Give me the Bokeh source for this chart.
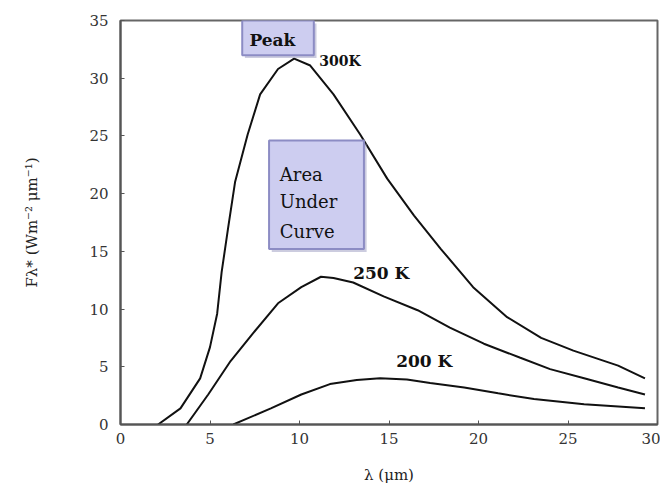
from bokeh.plotting import figure
from bokeh.models import Range1d, FixedTicker, BoxAnnotation, Label
from bokeh.embed import file_html
from bokeh.resources import INLINE

# Data (wavelength in micrometres, F in W m^-2 um^-1)
x300 = [2.1, 3.35, 4.45, 5.0, 5.4, 5.65, 6.0, 6.4, 7.1, 7.8, 8.8, 9.7, 10.6, 11.9,
        13.4, 14.9, 16.4, 17.9, 19.7, 21.6, 23.5, 25.3, 27.8, 29.3]
y300 = [0.0, 1.4, 4.0, 6.7, 9.6, 13.2, 16.9, 21.0, 25.1, 28.6, 30.8, 31.7, 31.1, 28.6,
        25.1, 21.3, 18.1, 15.2, 11.9, 9.3, 7.5, 6.4, 5.1, 4.0]

x250 = [3.7, 4.9, 6.15, 7.4, 8.8, 10.1, 11.2, 11.9, 13.0, 14.7, 16.6, 18.4, 20.3,
        22.3, 24.0, 25.9, 27.8, 29.3]
y250 = [0.0, 2.6, 5.5, 7.9, 10.5, 11.9, 12.8, 12.7, 12.3, 11.1, 9.9, 8.4, 7.0,
        5.8, 4.8, 4.0, 3.2, 2.6]

x200 = [6.3, 8.4, 10.1, 11.7, 13.2, 14.5, 16.0, 17.3, 19.2, 21.1, 23.1, 25.9, 29.3]
y200 = [0.0, 1.4, 2.6, 3.5, 3.85, 4.0, 3.9, 3.6, 3.2, 2.7, 2.2, 1.75, 1.4]

x_ticks = [0, 5, 10, 15, 20, 25, 30]
y_ticks = [0, 5, 10, 15, 20, 25, 30, 35]

SERIF = "DejaVu Serif"

p = figure(width=660, height=486, output_backend="svg", toolbar_location=None,
           x_range=Range1d(0, 30), y_range=Range1d(0, 35),
           min_border_left=120, min_border_right=3,
           min_border_top=20, min_border_bottom=62)
p.background_fill_color = "white"
p.border_fill_color = "white"
p.grid.visible = False
p.outline_line_color = "#666666"
p.outline_line_width = 2

for ax in (p.xaxis[0], p.yaxis[0]):
    ax.axis_line_color = "#555555"
    ax.axis_line_width = 2
    ax.major_tick_in = 4
    ax.major_tick_out = 0
    ax.major_tick_line_color = "#555555"
    ax.minor_tick_line_color = None
    ax.major_label_text_font = SERIF
    ax.major_label_text_font_size = "15px"
    ax.major_label_text_color = "#333333"
    ax.axis_label_text_font = SERIF
    ax.axis_label_text_font_size = "15px"
    ax.axis_label_text_font_style = "normal"
    ax.axis_label_text_color = "#222222"

p.xaxis.ticker = FixedTicker(ticks=x_ticks)
p.yaxis.ticker = FixedTicker(ticks=y_ticks)
p.xaxis.major_label_standoff = 8
p.yaxis.major_label_standoff = 12
p.xaxis.axis_label = "\u03bb (\u03bcm)"
p.xaxis.axis_label_standoff = 19
p.yaxis.axis_label = "F\u03bb* (Wm\u207b\u00b2 \u03bcm\u207b\u00b9)"
p.yaxis.axis_label_standoff = 45

for xs, ys in ((x300, y300), (x250, y250), (x200, y200)):
    p.line(xs, ys, line_color="#111111", line_width=2)

# Annotation boxes
for l, r, b, t in ((6.8, 10.8, 32.0, 35.0), (8.3, 13.6, 15.2, 24.6)):
    p.add_layout(BoxAnnotation(left=l + 0.15, right=r + 0.15, bottom=b - 0.25, top=t - 0.25,
                               fill_color="#9a9ac0", fill_alpha=0.5, line_color=None))
    p.add_layout(BoxAnnotation(left=l, right=r, bottom=b, top=t,
                               fill_color="#cdcdf0", fill_alpha=1.0,
                               line_color="#8c8cc4", line_width=2, line_alpha=1.0))

def lab(x, y, text, size="15px", style="bold"):
    p.add_layout(Label(x=x, y=y, text=text, text_font=SERIF, text_font_size=size,
                       text_font_style=style, text_color="#111111",
                       text_align="left", text_baseline="middle"))

lab(7.2, 33.3, "Peak", "17px")
lab(8.9, 21.7, "Area", "18px", "normal")
lab(8.9, 19.3, "Under", "18px", "normal")
lab(8.9, 16.7, "Curve", "18px", "normal")
lab(11.1, 31.5, "300K", "14px")
lab(13.0, 13.1, "250 K", "17px")
lab(15.4, 5.5, "200 K", "17px")

open("out.html", "w").write(file_html(p, INLINE))
